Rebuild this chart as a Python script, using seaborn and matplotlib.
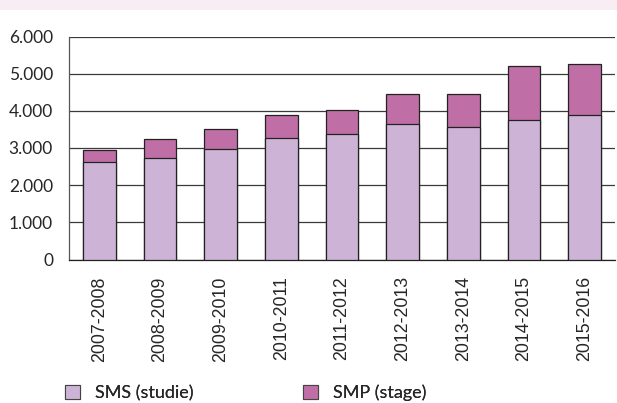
import matplotlib

matplotlib.use("Agg")
import matplotlib.pyplot as plt
import numpy as np
import pandas as pd
import seaborn as sns
from matplotlib.patches import Patch
from matplotlib.ticker import FixedLocator, FuncFormatter

# Data
years = [
    "2007-2008",
    "2008-2009",
    "2009-2010",
    "2010-2011",
    "2011-2012",
    "2012-2013",
    "2013-2014",
    "2014-2015",
    "2015-2016",
]
sms_studie = [2620, 2740, 2980, 3270, 3380, 3640, 3560, 3740, 3900]
smp_stage = [320, 490, 520, 630, 630, 800, 880, 1460, 1360]
series_names = ["SMS (studie)", "SMP (stage)"]

col_sms = "#cdb4d6"
col_smp = "#bf6fa5"

df = pd.DataFrame({"year": years, "SMS": sms_studie, "SMP": smp_stage})
df["total"] = df["SMS"] + df["SMP"]

sns.set_style("white")

fig = plt.figure(figsize=(6.17, 4.03), dpi=100)
ax = fig.add_axes([69 / 617, 1 - 259.5 / 403, 546 / 617, 223 / 403])

# pink band on top
fig.patches.append(
    plt.Rectangle((0, 1 - 10 / 403), 1, 10 / 403, transform=fig.transFigure,
                  facecolor="#f8edf3", edgecolor="none", zorder=0)
)

# stacked bars: total first, then bottom part on top
sns.barplot(data=df, x="year", y="total", color=col_smp, width=0.54,
            edgecolor="#222222", linewidth=0.9, saturation=1, ax=ax, zorder=3)
sns.barplot(data=df, x="year", y="SMS", color=col_sms, width=0.54,
            edgecolor="#222222", linewidth=0.9, saturation=1, ax=ax, zorder=3)

ax.set_xlim(-0.5, len(years) - 0.5)
ax.set_ylim(0, 6000)
ax.set_yticks(np.arange(0, 6001, 1000))
ax.yaxis.set_major_formatter(
    FuncFormatter(lambda v, p: "0" if v == 0 else f"{int(v):,}".replace(",", "."))
)
ax.yaxis.grid(True, color="#3a3a3a", linewidth=0.9, zorder=0)
ax.set_axisbelow(True)
ax.set_xlabel("")
ax.set_ylabel("")

for s in ["top", "right"]:
    ax.spines[s].set_visible(False)
ax.spines["left"].set_color("#555555")
ax.spines["bottom"].set_color("#222222")
ax.spines["left"].set_linewidth(0.9)
ax.spines["bottom"].set_linewidth(0.9)

ax.tick_params(axis="y", length=0, pad=11.5, labelsize=12.5)
for lab in ax.get_yticklabels():
    lab.set_family("Lato")
ax.tick_params(axis="x", which="major", length=0, pad=12, labelsize=12.8)
ax.set_xticks(range(len(years)))
ax.set_xticklabels(years, rotation=90, family="Liberation Sans")
ax.xaxis.set_minor_locator(FixedLocator(np.arange(0.5, len(years), 1)))
ax.tick_params(axis="x", which="minor", direction="in", length=7, width=0.9,
               color="#222222")

# legend: one entry per box so each sits where it does in the reference
leg_x = [65 / 617, 303 / 617]
for name, col, lx in zip(series_names, [col_sms, col_smp], leg_x):
    leg = fig.legend(
        [Patch(facecolor=col, edgecolor="#444444", linewidth=0.8)], [name],
        loc="center left", bbox_to_anchor=(lx, 1 - 393 / 403),
        frameon=False, prop={"family": "Lato", "size": 13},
        handlelength=0.83, handleheight=0.83, handletextpad=0.83,
        borderpad=0, borderaxespad=0,
    )
    fig.add_artist(leg)

fig.savefig("out.png", dpi=100)
